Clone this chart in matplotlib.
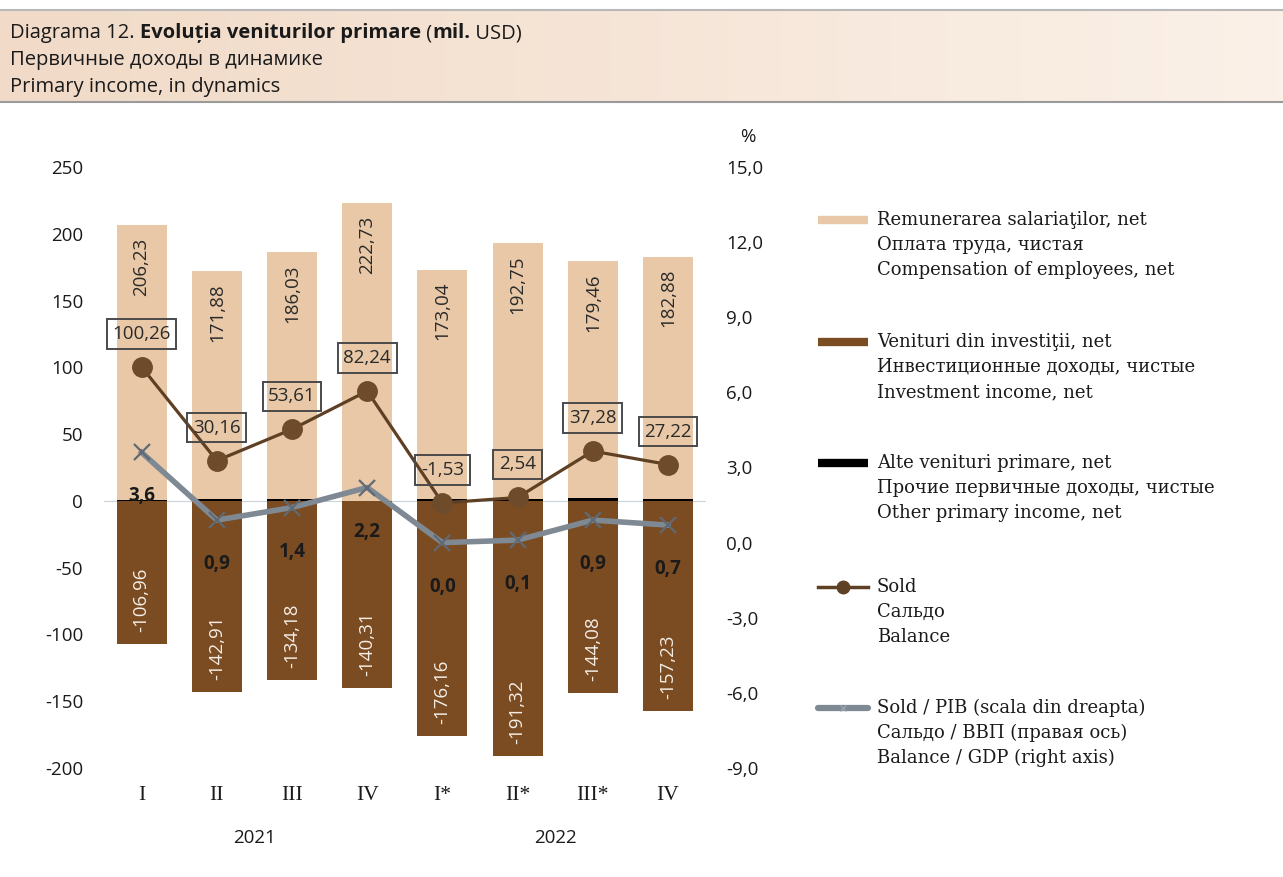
import matplotlib.pyplot as plt
import matplotlib.transforms as mtransforms
import numpy as np
from matplotlib.lines import Line2D

# data, mil. USD and % of GDP
quarters = ["I", "II", "III", "IV", "I*", "II*", "III*", "IV"]
years = ["2021", "2022"]
compensation = [206.23, 171.88, 186.03, 222.73, 173.04, 192.75, 179.46, 182.88]
investment = [-106.96, -142.91, -134.18, -140.31, -176.16, -191.32, -144.08, -157.23]
other = [0.99, 1.19, 1.76, -0.18, 1.59, 1.11, 1.90, 1.57]
balance = [100.26, 30.16, 53.61, 82.24, -1.53, 2.54, 37.28, 27.22]
balance_gdp = [3.6, 0.9, 1.4, 2.2, 0.0, 0.1, 0.9, 0.7]

legend_labels = [
    ["Remunerarea salariaţilor, net", "Оплата труда, чистая", "Compensation of employees, net"],
    ["Venituri din investiţii, net", "Инвестиционные доходы, чистые", "Investment income, net"],
    ["Alte venituri primare, net", "Прочие первичные доходы, чистые", "Other primary income, net"],
    ["Sold", "Сальдо", "Balance"],
    ["Sold / PIB (scala din dreapta)", "Сальдо / ВВП (правая ось)", "Balance / GDP (right axis)"],
]

C_COMP = "#E8C8A6"
C_INV = "#7B4B22"
C_OTHER = "#000000"
C_BAL = "#5E4024"
C_GDP = "#7E8994"
SANS = "Open Sans"
SERIF = "DejaVu Serif"

W, H = 1283, 877


def fx(px):
    return px / W


def fy(py):
    return 1 - py / H


def comma(v, nd):
    return f"{v:.{nd}f}".replace(".", ",")


fig = plt.figure(figsize=(W / 100, H / 100), dpi=100)

# ===== title band =====
band = fig.add_axes([0, fy(102), 1, (102 - 10) / H])
grad = np.linspace(0, 1, 256).reshape(1, -1)
left_c = np.array([241, 218, 199]) / 255
right_c = np.array([251, 241, 232]) / 255
img = left_c[None, None, :] * (1 - grad[..., None]) + right_c[None, None, :] * grad[..., None]
band.imshow(img, aspect="auto", extent=[0, 1, 0, 1])
band.axis("off")
fig.add_artist(Line2D([0, 1], [fy(10), fy(10)], transform=fig.transFigure, color="#B8B8B8", lw=1.5))
fig.add_artist(Line2D([0, 1], [fy(102), fy(102)], transform=fig.transFigure, color="#9A9A9A", lw=1.5))

renderer = fig.canvas.get_renderer()
TITLE_FS = 14.5


def put_pieces(x, y, pieces):
    for s, weight in pieces:
        t = fig.text(x, y, s, fontweight=weight, fontfamily=SANS, fontsize=TITLE_FS,
                     va="center", ha="left", color="#1a1a1a")
        bb = t.get_window_extent(renderer)
        x += bb.width / fig.bbox.width


put_pieces(fx(10), fy(33), [("Diagrama 12. ", "normal"), ("Evoluția veniturilor primare", "bold"),
                            (" (", "normal"), ("mil.", "bold"), (" USD)", "normal")])
fig.text(fx(10), fy(60), "Первичные доходы в динамике", fontfamily=SANS, fontsize=TITLE_FS,
         va="center", color="#1a1a1a")
fig.text(fx(10), fy(87), "Primary income, in dynamics", fontfamily=SANS, fontsize=TITLE_FS,
         va="center", color="#1a1a1a")

# ===== main chart =====
ax = fig.add_axes([fx(104), fy(768), fx(705.6 - 104), (768 - 167) / H])
x = np.arange(len(quarters))
bw = 0.665

ax.axhline(0, color="#C9D3DC", lw=0.8, zorder=0)
ax.bar(x, compensation, bw, color=C_COMP, zorder=1)
ax.bar(x, investment, bw, color=C_INV, zorder=1)
ax.bar(x, other, bw, color=C_OTHER, zorder=2)
ax.plot(x, balance, color=C_BAL, lw=2.3, marker="o", ms=14, mfc="#6E4B2B", mec="#6E4B2B", zorder=4)

for i in x:
    ax.annotate(comma(compensation[i], 2), (i, compensation[i]), xytext=(0, -12),
                textcoords="offset pixels", rotation=90, ha="center", va="top",
                fontfamily=SANS, fontsize=13.5, color="#2a2a2a", zorder=3)
    ax.annotate(comma(investment[i], 2), (i, investment[i]), xytext=(0, 12),
                textcoords="offset pixels", rotation=90, ha="center", va="bottom",
                fontfamily=SANS, fontsize=13.5, color="#F4EEE6", zorder=3)
    ax.annotate(comma(balance[i], 2), (i, balance[i]), xytext=(0, 33),
                textcoords="offset pixels", ha="center", va="center",
                fontfamily=SANS, fontsize=13.5, color="#2a2a2a", zorder=5,
                bbox=dict(boxstyle="square,pad=0.3", fc="none", ec="#4A4A4A", lw=1.4))

ax.set_xlim(-0.5, len(quarters) - 0.5)
ax.set_ylim(-200, 250)
ax.set_yticks(np.arange(-200, 251, 50))
ax.set_yticklabels([str(v) for v in range(-200, 251, 50)], fontfamily=SANS, fontsize=13.5)
ax.set_xticks(x)
ax.set_xticklabels(quarters, fontfamily="Liberation Serif", fontsize=15.5)
ax.tick_params(axis="y", length=0, pad=15, colors="#1a1a1a")
ax.tick_params(axis="x", length=0, pad=13, colors="#1a1a1a")
for s in ax.spines.values():
    s.set_visible(False)

# year labels under the quarters
trans = mtransforms.blended_transform_factory(ax.transData, ax.transAxes)
ax.text(1.5, -70 / 601, years[0], transform=trans, ha="center", va="center",
        fontfamily=SANS, fontsize=13.5, color="#1a1a1a")
ax.text(5.5, -70 / 601, years[1], transform=trans, ha="center", va="center",
        fontfamily=SANS, fontsize=13.5, color="#1a1a1a")

# ===== right axis: balance / GDP =====
ax2 = ax.twinx()
ax2.plot(x, balance_gdp, color=C_GDP, lw=4, marker="x", ms=11, mew=1.6, mec="#5F6A75", zorder=4)
for i in x:
    ax2.annotate(comma(balance_gdp[i], 1), (i, balance_gdp[i]), xytext=(0, -44),
                 textcoords="offset pixels", ha="center", va="center",
                 fontfamily=SANS, fontsize=13.5, fontweight="bold", color="#1a1a1a")
ax2.set_ylim(-9, 15)
ax2.set_yticks(np.arange(-9, 16, 3))
ax2.set_yticklabels([comma(v, 1) for v in np.arange(-9, 16, 3)], fontfamily=SANS, fontsize=13.5)
ax2.tick_params(axis="y", length=0, pad=15, colors="#1a1a1a")
for s in ax2.spines.values():
    s.set_visible(False)
fig.text(fx(748), fy(137), "%", ha="center", va="center", fontfamily=SANS, fontsize=13.5,
         color="#1a1a1a")

# ===== legend =====
entry_y = [220, 342, 463, 587, 708]
h0, h1, tx = fx(818), fx(868), fx(877)
for k, lines in enumerate(legend_labels):
    yy = fy(entry_y[k])
    if k == 0:
        fig.add_artist(Line2D([h0, h1], [yy, yy], transform=fig.transFigure, color=C_COMP, lw=6,
                              solid_capstyle="butt"))
    elif k == 1:
        fig.add_artist(Line2D([h0, h1], [yy, yy], transform=fig.transFigure, color=C_INV, lw=6,
                              solid_capstyle="butt"))
    elif k == 2:
        fig.add_artist(Line2D([h0, h1], [yy, yy], transform=fig.transFigure, color=C_OTHER, lw=6,
                              solid_capstyle="butt"))
    elif k == 3:
        fig.add_artist(Line2D([h0, h1], [yy, yy], transform=fig.transFigure, color=C_BAL, lw=2.5))
        fig.add_artist(Line2D([(h0 + h1) / 2], [yy], transform=fig.transFigure, marker="o", ms=9,
                              mfc=C_BAL, mec=C_BAL, lw=0))
    else:
        fig.add_artist(Line2D([h0, h1], [yy, yy], transform=fig.transFigure, color=C_GDP, lw=4.5,
                              solid_capstyle="round"))
        fig.add_artist(Line2D([(h0 + h1) / 2], [yy], transform=fig.transFigure, marker="x", ms=5,
                              mew=1, mec="#9AA3AC", lw=0))
    for j, line in enumerate(lines):
        fig.text(tx, fy(entry_y[k] + 25 * j), line, ha="left", va="center",
                 fontfamily=SERIF, fontsize=13, color="#1a1a1a")

fig.savefig("out.png", dpi=100)
